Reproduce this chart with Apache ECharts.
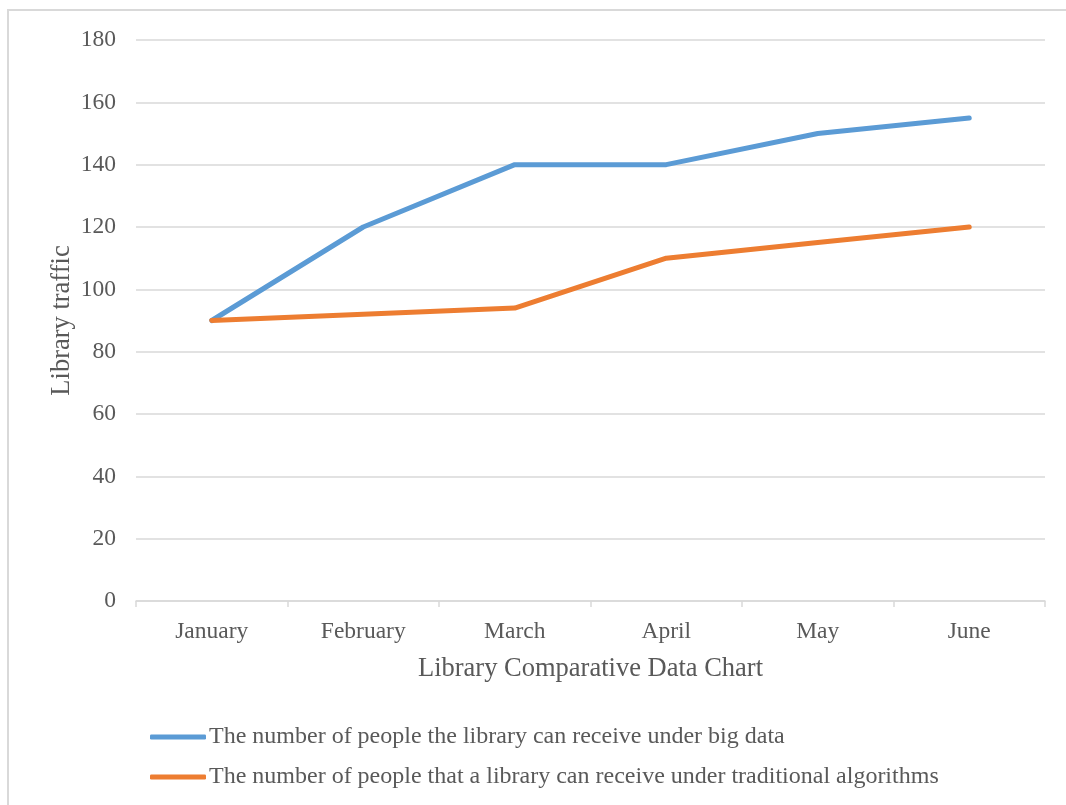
<!DOCTYPE html>
<html>
<head>
<meta charset="utf-8">
<script src="https://cdn.jsdelivr.net/npm/echarts@6/dist/echarts.min.js"></script>
<style>
  html, body { margin: 0; padding: 0; background: #fff; }
  #chart { width: 1066px; height: 805px; }
</style>
</head>
<body>
<div id="chart"></div>
<script>
const months = ["January", "February", "March", "April", "May", "June"];
const bigData = [90, 120, 140, 140, 150, 155];
const traditional = [90, 92, 94, 110, 115, 120];
const seriesNames = [
  "The number of people the library can receive under big data",
  "The number of people that a library can receive under traditional algorithms"
];

const textColor = "#595959";
const font = "Liberation Serif, Times New Roman, serif";

const chart = echarts.init(document.getElementById("chart"));
chart.setOption({
  animation: false,
  textStyle: { fontFamily: font, color: textColor },
  graphic: [
    {
      type: "rect",
      shape: { x: 8, y: 10, width: 1100, height: 900 },
      style: { fill: "none", stroke: "#d9d9d9", lineWidth: 2 },
      silent: true
    }
  ],
  grid: { left: 136, right: 21, top: 40, bottom: 204 },
  legend: {
    orient: "vertical",
    left: 145,
    top: 720,
    itemWidth: 56,
    itemHeight: 5,
    itemGap: 16,
    icon: "roundRect",
    textStyle: { fontFamily: font, fontSize: 24, color: textColor, padding: [0, 0, 0, -2] },
    data: seriesNames
  },
  xAxis: {
    type: "category",
    data: months,
    boundaryGap: true,
    name: "Library Comparative Data Chart",
    nameLocation: "middle",
    nameGap: 55,
    nameTextStyle: { fontFamily: font, fontSize: 26.5, color: textColor },
    axisLine: { lineStyle: { color: "#d9d9d9", width: 1.5 } },
    axisTick: { show: true, length: 6, lineStyle: { color: "#d9d9d9", width: 1.5 } },
    axisLabel: { fontFamily: font, fontSize: 23.5, color: textColor, margin: 19 }
  },
  yAxis: {
    type: "value",
    min: 0,
    max: 180,
    interval: 20,
    name: "Library traffic",
    nameLocation: "middle",
    nameGap: 60,
    nameMoveOverlap: false,
    nameTextStyle: { fontFamily: font, fontSize: 26.5, color: textColor },
    axisLine: { show: false },
    axisTick: { show: false },
    axisLabel: { fontFamily: font, fontSize: 23.5, color: textColor, margin: 20 },
    splitLine: { lineStyle: { color: "#d9d9d9", width: 1.5 } }
  },
  series: [
    {
      name: seriesNames[0],
      type: "line",
      data: bigData,
      symbol: "none",
      color: "#5b9bd5",
      lineStyle: { width: 5, cap: "round", join: "round" }
    },
    {
      name: seriesNames[1],
      type: "line",
      data: traditional,
      symbol: "none",
      color: "#ed7d31",
      lineStyle: { width: 5, cap: "round", join: "round" }
    }
  ]
});
</script>
</body>
</html>
